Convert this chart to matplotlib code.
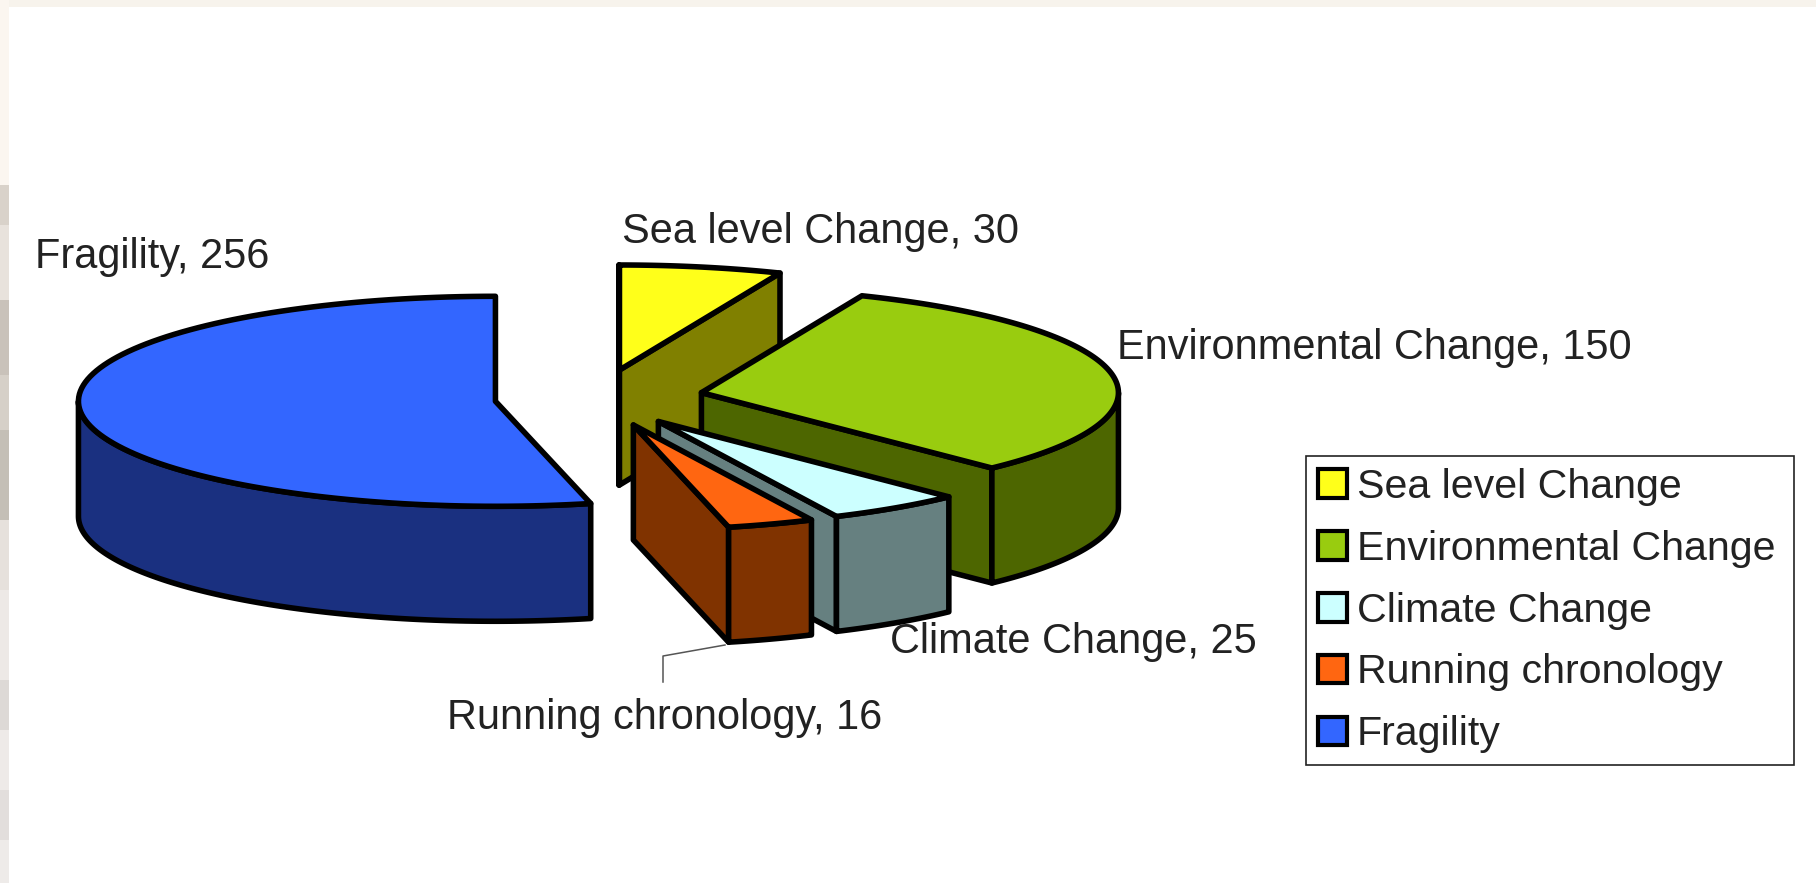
import numpy as np
import matplotlib
matplotlib.use("Agg")
import matplotlib.pyplot as plt
from matplotlib.patches import Polygon, Patch, Rectangle

plt.rcParams['font.family'] = ['Liberation Sans', 'DejaVu Sans']

# ==============================
# DATA
# ==============================
categories = ["Sea level Change", "Environmental Change", "Climate Change",
              "Running chronology", "Fragility"]
values = [30, 150, 25, 16, 256]

top_colors = ["#FFFF1A", "#99CC0F", "#CCFFFF", "#FF6611", "#3366FF"]
side_colors = ["#808000", "#4D6600", "#668080", "#803300", "#1A3080"]

label_xy = [(622, 243), (1117, 359), (890, 653), (447, 729), (35, 268)]

# left strip of the slide background, top to bottom
strip_colors = ["#FBF6F0", "#D9D2CA", "#E8E2DC", "#C9C2BA", "#D6D0C8", "#C4BFB6",
                "#E6E1DC", "#EDE9E6", "#DDD9D6", "#EEEAE8", "#E2DEDC", "#EEEBE9"]
strip_stops = [0, 185, 225, 300, 375, 430, 520, 590, 680, 730, 790, 840, 883]

# ==============================
# PIE GEOMETRY (figure pixels)
# ==============================
CX, CY = 599, 398
RX, RY = 417, 105
DEPTH = 115
EXPLODE_X, EXPLODE_Y = 0.25, 0.272
LW = 4.0

fig = plt.figure(figsize=(18.16, 8.83), dpi=100, facecolor="white")
ax = fig.add_axes([0, 0, 1, 1])
ax.set_xlim(0, 1816)
ax.set_ylim(883, 0)
ax.axis("off")

# slide background
ax.add_patch(Rectangle((0, 0), 1816, 7, fc="#F7F3EC", ec="none"))
for i, col in enumerate(strip_colors):
    ax.add_patch(Rectangle((0, strip_stops[i]), 9, strip_stops[i + 1] - strip_stops[i],
                           fc=col, ec="none"))


def rim(cx, cy, a1, a2):
    t = np.linspace(a1, a2, 120)
    return np.column_stack([cx + RX * np.sin(t), cy - RY * np.cos(t)])


def face(pts, col):
    ax.add_patch(Polygon(pts, closed=True, fc=col, ec="black", lw=LW, joinstyle="round"))


# start and end angles, clockwise from twelve o'clock
edges = np.concatenate([[0], np.cumsum(values)]) / np.sum(values) * 2 * np.pi
mids = (edges[:-1] + edges[1:]) / 2
centers = [(CX + EXPLODE_X * RX * np.sin(m), CY - EXPLODE_Y * RY * np.cos(m)) for m in mids]

# back slices first
order = sorted(range(len(values)), key=lambda k: centers[k][1])
drop = np.array([0, DEPTH])

for k in order:
    cx, cy = centers[k]
    a1, a2 = edges[k], edges[k + 1]
    apex = np.array([cx, cy])

    # the cut walls which face the viewer
    for ang, sign in [(a1, -1), (a2, 1)]:
        if sign * np.sin(ang) < 0:
            continue
        edge = rim(cx, cy, ang, ang)[0]
        face([apex, edge, edge + drop, apex + drop], side_colors[k])

    # outer wall, front half only
    lo, hi = max(a1, np.pi / 2), min(a2, 3 * np.pi / 2)
    if lo < hi:
        arc = rim(cx, cy, lo, hi)
        face(np.vstack([arc, arc[::-1] + drop]), side_colors[k])

    face(np.vstack([apex, rim(cx, cy, a1, a2)]), top_colors[k])

# ==============================
# LABELS, LEADER, LEGEND
# ==============================
for name, val, (x, y) in zip(categories, values, label_xy):
    ax.text(x, y, f"{name}, {val}", fontsize=29.9, color="#222222", ha="left", va="baseline")

ax.plot([725, 663, 663], [645, 656, 682], color="#555555", lw=1.1)

handles = [Patch(fc=c, ec="black", lw=3) for c in top_colors]
leg = ax.legend(handles, categories, loc="upper left", mode="expand",
                bbox_to_anchor=(1306, 456, 488, 0), bbox_transform=ax.transData,
                borderaxespad=0, fontsize=29.6, fancybox=False, framealpha=1,
                edgecolor="#222222", handlelength=0.7, handleheight=0.7,
                handletextpad=0.24, labelspacing=0.58, borderpad=0.29,
                labelcolor="#222222")
leg.get_frame().set_linewidth(1.2)

plt.savefig("out.png", dpi=100)
